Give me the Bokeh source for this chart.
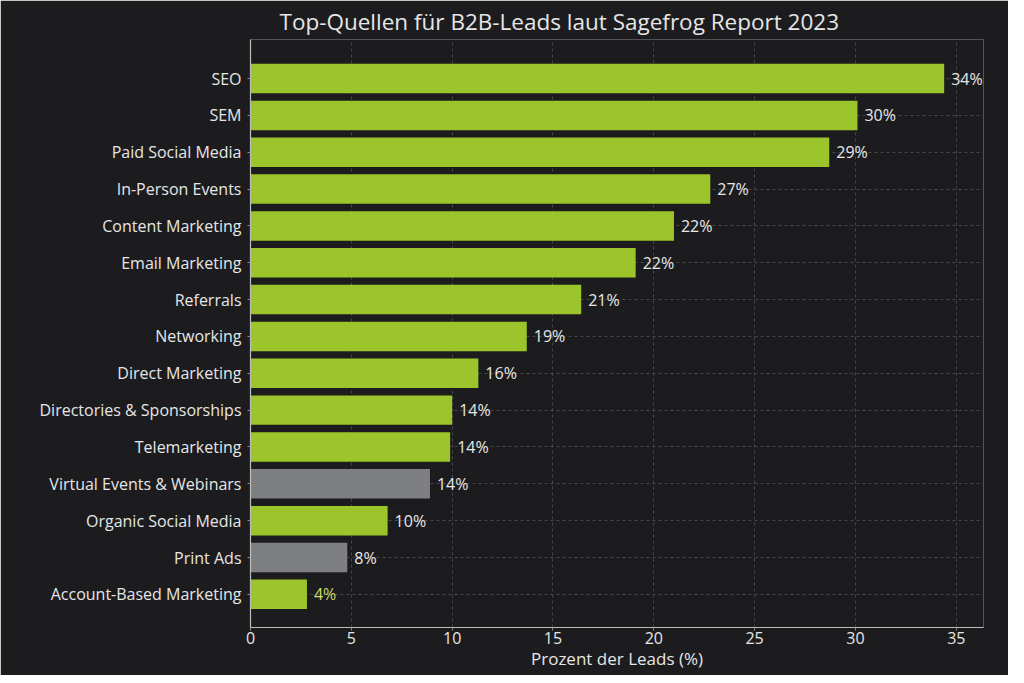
from bokeh.plotting import figure
from bokeh.models import Range1d, FixedTicker, ColumnDataSource, LabelSet
from bokeh.core.properties import value
from bokeh.embed import file_html
from bokeh.resources import INLINE

categories = ["SEO", "SEM", "Paid Social Media", "In-Person Events", "Content Marketing",
              "Email Marketing", "Referrals", "Networking", "Direct Marketing",
              "Directories & Sponsorships", "Telemarketing", "Virtual Events & Webinars",
              "Organic Social Media", "Print Ads", "Account-Based Marketing"]
bar_values = [34.4, 30.1, 28.7, 22.8, 21.0, 19.1, 16.4, 13.7, 11.3, 10.0, 9.9, 8.9, 6.8, 4.8, 2.8]
value_labels = ["34%", "30%", "29%", "27%", "22%", "22%", "21%", "19%", "16%", "14%",
                "14%", "14%", "10%", "8%", "4%"]
bar_colors = ["#9bc52a"] * 11 + ["#7d7f80", "#9bc52a", "#7d7f80", "#9bc52a"]
label_colors = ["#e8e8e8"] * 14 + ["#d2dc6e"]
x_ticks = [0, 5, 10, 15, 20, 25, 30, 35]

n = len(categories)
ypos = [n - 1 - i for i in range(n)]

BG = "#1c1c1f"
FONT = "Open Sans"

p = figure(width=1008, height=675, output_backend="svg", toolbar_location=None,
           x_range=Range1d(0, 36.35), y_range=Range1d(-0.9, 15.06),
           min_border_left=250, min_border_right=25, min_border_top=32, min_border_bottom=48)
p.background_fill_color = BG
p.border_fill_color = BG
p.outline_line_color = None

p.title.text = "Top-Quellen für B2B-Leads laut Sagefrog Report 2023"
p.title.text_color = "#e6e6e6"
p.title.text_font = FONT
p.title.text_font_size = "22.5px"
p.title.text_font_style = "normal"
p.title.align = "left"
p.title.offset = 29
p.title.standoff = 6

src = ColumnDataSource(dict(y=ypos, v=bar_values, c=bar_colors, lab=value_labels,
                            lc=label_colors, lx=bar_values))
p.hbar(y="y", right="v", left=0, height=0.8, color="c", line_color=None, source=src)

labels = LabelSet(x="lx", y="y", text="lab", source=src, x_offset=7, text_baseline="middle",
                  text_font=value(FONT), text_font_size=value("16px"), text_color="lc")
p.add_layout(labels)

# grids
p.xgrid.ticker = FixedTicker(ticks=x_ticks)
p.xgrid.grid_line_color = "#46474a"
p.xgrid.grid_line_dash = "3 3"
p.xgrid.grid_line_width = 1
p.ygrid.ticker = FixedTicker(ticks=ypos)
p.ygrid.grid_line_color = "#46474a"
p.ygrid.grid_line_dash = "3 3"
p.ygrid.grid_line_width = 1
p.ygrid.level = "underlay"
p.xgrid.level = "underlay"

# axes
p.xaxis.ticker = FixedTicker(ticks=x_ticks)
p.yaxis.ticker = FixedTicker(ticks=ypos)
p.yaxis.major_label_overrides = {y: c for y, c in zip(ypos, categories)}
for ax in (p.xaxis[0], p.yaxis[0]):
    ax.axis_line_color = "#bdbdbd"
    ax.axis_line_width = 1.2
    ax.major_tick_line_color = "#8a8a8a"
    ax.major_tick_in = 0
    ax.major_tick_out = 3
    ax.minor_tick_line_color = None
    ax.major_label_text_color = "#e6e6e6"
    ax.major_label_text_font = FONT
    ax.major_label_text_font_size = "16px"
p.yaxis.major_label_standoff = 6
p.xaxis.major_label_standoff = 1
p.xaxis.axis_label = "Prozent der Leads (%)"
p.xaxis.axis_label_text_color = "#e6e6e6"
p.xaxis.axis_label_text_font = FONT
p.xaxis.axis_label_text_font_size = "17px"
p.xaxis.axis_label_text_font_style = "normal"
p.xaxis.axis_label_standoff = 0

open("out.html", "w").write(file_html(p, INLINE))
